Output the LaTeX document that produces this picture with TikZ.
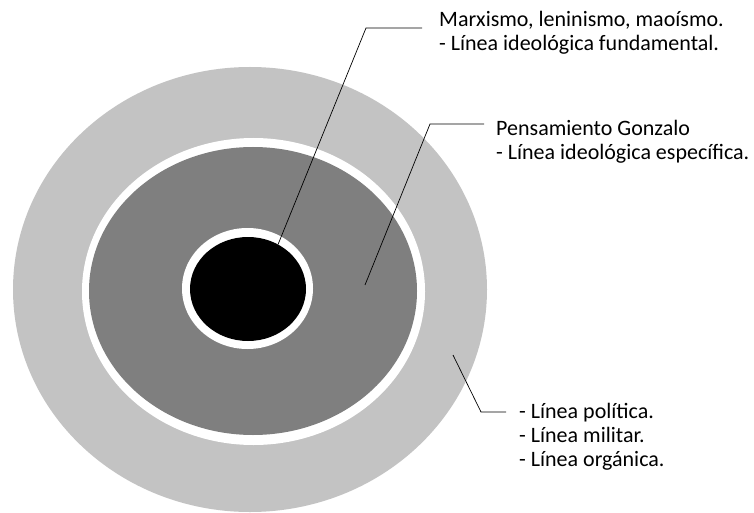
\documentclass[tikz,border=0pt]{standalone}
\usepackage{fontspec}
\setmainfont{Carlito}
\usetikzlibrary{shapes.geometric}

\definecolor{ringlight}{RGB}{195,195,195}
\definecolor{ringdark}{RGB}{127,127,127}

\begin{document}
\begin{tikzpicture}[
  x=1pt, y=-1pt,
  disc/.style={
    ellipse, draw=none,
    inner sep=0pt, outer sep=0pt,
  },
  note/.style={
    anchor=base west, align=left, inner sep=0pt,
    font=\fontsize{22}{24}\selectfont,
  },
  leader/.style={draw, line width=0.7pt},
]

  \useasboundingbox (0,0) rectangle (754,513);

  \node [disc, fill=ringlight, minimum width=474pt, minimum height=445pt] (outer) at (250,289.5) {};
  \node [disc, fill=white, minimum width=343pt, minimum height=307pt] (gap) at (253.5,291.5) {};
  \node [disc, fill=ringdark, minimum width=328pt, minimum height=288pt] (middle) at (253,291) {};
  \node [disc, fill=white, minimum width=131pt, minimum height=121pt] (rim) at (247.5,288.5) {};
  \node [disc, fill=black, minimum width=116pt, minimum height=104pt] (core) at (248,289) {};

  % base = last line
  \node [note] (marx) at (439,51) {Marxismo, leninismo, maoísmo.\\- Línea ideológica fundamental.};
  \node [note] (gonzalo) at (496,160) {Pensamiento Gonzalo\\- Línea ideológica específica.};
  \node [note] (lines) at (519,466) {- Línea política.\\- Línea militar.\\- Línea orgánica.};

  \coordinate (k1) at (366,28);
  \coordinate (e1) at (422,28);
  \coordinate (p2) at (365,285);
  \coordinate (k2) at (430,124);
  \coordinate (e2) at (484,124);
  \coordinate (p3) at (453,355);
  \coordinate (k3) at (481,412);
  \coordinate (e3) at (506,412);

  \path [leader] (core.56) -- (k1) -- (e1);
  \path [leader] (p2) -- (k2) -- (e2);
  \path [leader] (p3) -- (k3) -- (e3);

\end{tikzpicture}
\end{document}
